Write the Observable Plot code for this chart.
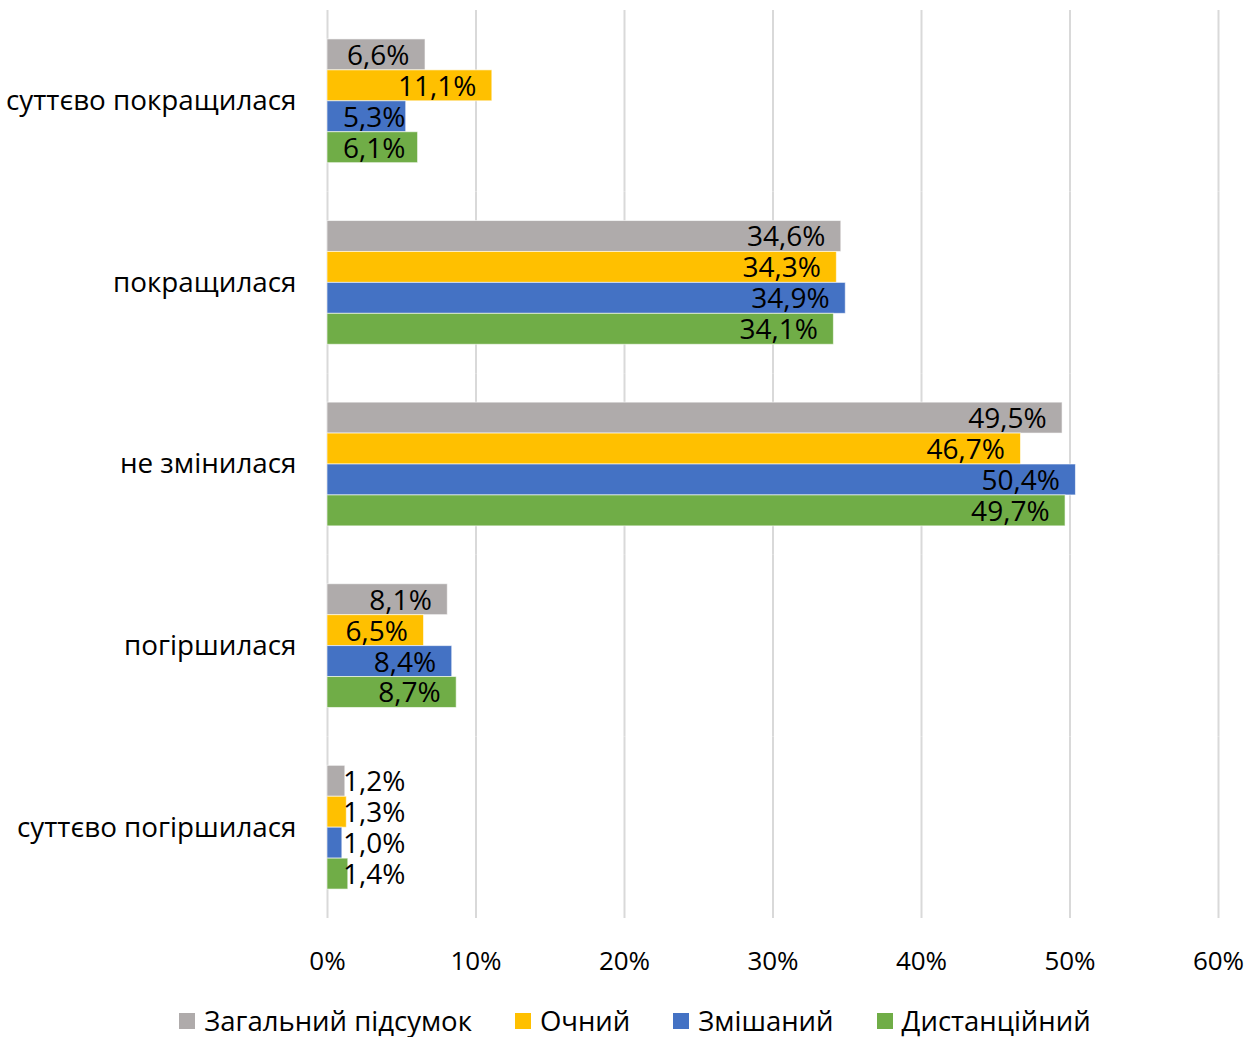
<!DOCTYPE html>
<html>
<head>
<meta charset="utf-8">
<script src="https://cdn.jsdelivr.net/npm/d3@7"></script>
<script src="https://cdn.jsdelivr.net/npm/@observablehq/plot@0.6"></script>
<style>
  body { margin: 0; background: #fff; font-family: "Open Sans", sans-serif; overflow: hidden; }
  #legend { display: flex; justify-content: center; gap: 43px; margin-left: 10px; font-size: 27.5px; line-height: 1.15; color: #000; height: 32px; padding-top: 10px; align-items: center; }
  #legend span.item { display: inline-flex; align-items: center; }
  #legend i { display: inline-block; width: 16px; height: 16px; margin-right: 9px; }
</style>
</head>
<body>
<div id="chart"></div>
<div id="legend"></div>
<script>
const categories = ["суттєво покращилася", "покращилася", "не змінилася", "погіршилася", "суттєво погіршилася"];
const series = ["Загальний підсумок", "Очний", "Змішаний", "Дистанційний"];
const colors = ["#AFABAB", "#FFC000", "#4472C4", "#70AD47"];
const valGeneral = [6.6, 34.6, 49.5, 8.1, 1.2];
const valFullTime = [11.1, 34.3, 46.7, 6.5, 1.3];
const valMixed = [5.3, 34.9, 50.4, 8.4, 1.0];
const valRemote = [6.1, 34.1, 49.7, 8.7, 1.4];
const xTicks = [0, 10, 20, 30, 40, 50, 60];

const seriesValues = [valGeneral, valFullTime, valMixed, valRemote];
const data = [];
categories.forEach((c, i) => series.forEach((s, j) => data.push({category: c, series: s, value: seriesValues[j][i]})));
const fmt = v => v.toFixed(1).replace(".", ",") + "%";

const chart = Plot.plot({
  width: 1260,
  height: 995,
  marginLeft: 327,
  marginRight: 42,
  marginTop: 10,
  marginBottom: 77,
  style: {fontFamily: "'Open Sans', sans-serif", fontSize: "26px", color: "#000", background: "#fff"},
  x: {domain: [0, 60], ticks: xTicks, tickFormat: d => d + "%", tickSize: 0, tickPadding: 33, label: null},
  y: {domain: series, axis: null, paddingInner: 0, paddingOuter: 0.935, round: false},
  fy: {domain: categories, padding: 0, round: false, axis: null},
  color: {domain: series, range: colors},
  marks: [
    Plot.ruleX(xTicks, {x: d => d, stroke: "#d9d9d9", strokeWidth: 2}),
    Plot.axisFy({anchor: "left", tickSize: 0, tickPadding: 31, label: null, fontSize: 27.8}),
    Plot.barX(data, {fy: "category", y: "series", x: "value", fill: "series", stroke: "#fff", strokeOpacity: 0.6, strokeWidth: 1}),
    Plot.text(data, {fy: "category", y: "series", x: d => Math.max(d.value, 6.33), text: d => fmt(d.value), textAnchor: "end", dx: -16, dy: 1, fontSize: 28, fill: "#000"})
  ]
});
document.getElementById("chart").appendChild(chart);

const legend = document.getElementById("legend");
series.forEach((s, i) => {
  const span = document.createElement("span");
  span.className = "item";
  span.innerHTML = `<i style="background:${colors[i]}"></i>${s}`;
  legend.appendChild(span);
});
</script>
</body>
</html>
